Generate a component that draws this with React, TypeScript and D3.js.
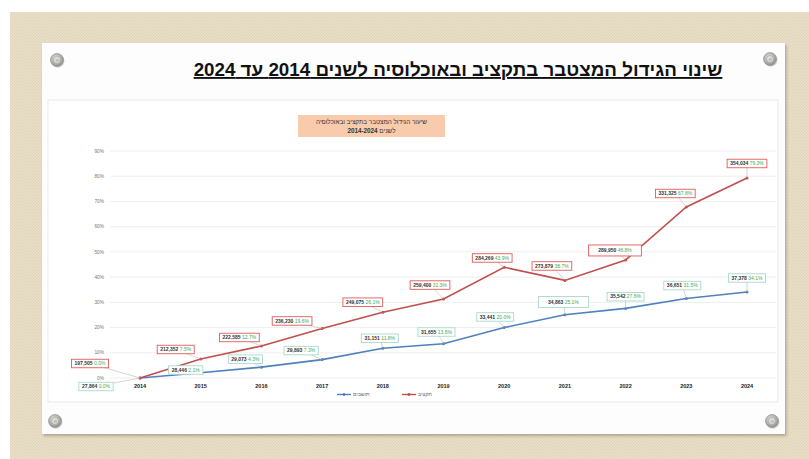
import * as d3 from "d3";

const years = [2014, 2015, 2016, 2017, 2018, 2019, 2020, 2021, 2022, 2023, 2024];
const budgetValues = ["197,505", "212,352", "222,585", "236,230", "249,075", "259,400", "284,269", "273,879", "289,950", "331,325", "354,034"];
const budgetGrowth = [0.0, 7.5, 12.7, 19.6, 26.1, 31.3, 43.9, 38.7, 46.8, 67.8, 79.3];
const residentValues = ["27,864", "28,446", "29,073", "29,893", "31,151", "31,655", "33,441", "34,863", "35,542", "36,651", "37,378"];
const residentGrowth = [0.0, 2.1, 4.3, 7.3, 11.8, 13.6, 20.0, 25.1, 27.6, 31.5, 34.1];
const yTicks = [0, 10, 20, 30, 40, 50, 60, 70, 80, 90];

// label box placement relative to its point (dx, dy, extra width)
const budgetLabelPos: [number, number, number][] = [
  [-50, -14.5, 0], [-25, -9.6, 0], [-22, -8.5, 0], [-30, -7.6, 0], [-20, -10, 0], [-13.5, -14, 0],
  [-12, -9.3, 0], [-13, -14.4, 0], [-10.6, -9.5, 13], [-11, -13.5, 0], [0, -14.5, 0],
];
const residentLabelPos: [number, number, number][] = [
  [-44, 8.5, 0], [-15, -2.7, 0], [-16, -8, 0], [-21, -9, 0], [-3, -10, 0], [-7, -11.7, 0],
  [-9, -10.6, 0], [-1.5, -12.7, 13], [0, -11.7, 0], [-4, -13, 0], [0, -14, 0],
];

const RED = "#c0504d";
const BLUE = "#4f81bd";
const FONT = "'Liberation Sans', Arial, sans-serif";

const x = d3.scaleLinear().domain([2014, 2024]).range([140, 747]);
const y = d3.scaleLinear().domain([0, 90]).range([378, 151]);

function Screw({ cx, cy }: { cx: number; cy: number }) {
  return (
    <g>
      <circle cx={cx + 0.8} cy={cy + 1} r={6.7} fill="#00000026" />
      <circle cx={cx} cy={cy} r={6.5} fill="url(#screwGrad)" stroke="#8a8a8a" strokeWidth={0.6} />
      <circle cx={cx} cy={cy} r={3.4} fill="#e4e4e0" stroke="#9c9c98" strokeWidth={0.6} />
      <circle cx={cx + 0.4} cy={cy + 0.4} r={1.9} fill="#c4c4bc" />
    </g>
  );
}

function Series({ growth, color }: { growth: number[]; color: string }) {
  const line = d3.line<number>().x((_, i) => x(years[i])).y((d) => y(d));
  return (
    <g>
      <path d={line(growth) ?? ""} fill="none" stroke={color} strokeWidth={1.6} />
      {growth.map((g, i) => (
        <circle key={i} cx={x(years[i])} cy={y(g)} r={1.5} fill={color} />
      ))}
    </g>
  );
}

function Labels({
  growth, values, pos, border,
}: {
  growth: number[]; values: string[]; pos: [number, number, number][]; border: string;
}) {
  return (
    <g>
      {growth.map((g, i) => {
        const px = x(years[i]);
        const py = y(g);
        const [dx, dy, extra] = pos[i];
        const pct = g.toFixed(1) + "%";
        const w = (values[i].length + pct.length + 1) * 2.75 + 4 + extra;
        const h = 8.5 + (extra ? 2.5 : 0);
        const cx = px + dx;
        const cy = py + dy;
        return (
          <g key={i}>
            <line x1={cx} y1={cy} x2={px} y2={py} stroke="#b8b8b8" strokeWidth={0.6} />
            <rect x={cx - w / 2} y={cy - h / 2} width={w} height={h} fill="#fff" stroke={border} strokeWidth={0.9} />
            <text x={cx} y={cy + 1.8} textAnchor="middle" fontSize={5} fontFamily={FONT} direction="ltr">
              <tspan fontWeight="bold" fill="#333">{values[i]}</tspan>
              <tspan fill="#3daa5a"> {pct}</tspan>
            </text>
          </g>
        );
      })}
    </g>
  );
}

export default function App() {
  return (
    <svg width={809} height={459} style={{ position: "absolute", left: 0, top: 0 }}>
      <defs>
        <pattern id="canvas" width={3} height={3} patternUnits="userSpaceOnUse">
          <rect width={3} height={3} fill="#e7ddc4" />
          <path d="M0,3 L3,0" stroke="#dbcfb1" strokeWidth={0.7} />
          <path d="M0,0 L3,3" stroke="#efe7d4" strokeWidth={0.4} />
        </pattern>
        <radialGradient id="screwGrad" cx="40%" cy="35%" r="70%">
          <stop offset="0%" stopColor="#dcdcd8" />
          <stop offset="100%" stopColor="#8e8e8a" />
        </radialGradient>
        <filter id="shadow" x="-5%" y="-5%" width="110%" height="110%">
          <feDropShadow dx={1.5} dy={2} stdDeviation={1.5} floodColor="#000" floodOpacity={0.25} />
        </filter>
      </defs>
      <rect width={809} height={459} fill="#fff" />
      <rect x={10} y={12} width={799} height={447} fill="url(#canvas)" />

      <rect x={42} y={43} width={743} height={391} fill="#fdfdfd" filter="url(#shadow)" />
      <text x={458} y={76} textAnchor="middle" fontSize={18.8} fontWeight="bold" fontFamily={FONT}
        fill="#111" direction="rtl" style={{ textDecoration: "underline" }}>
        שינוי הגידול המצטבר בתקציב ובאוכלוסיה לשנים 2014 עד 2024
      </text>

      <rect x={48} y={100} width={730} height={302} fill="#fff" stroke="#e4e4e4" strokeWidth={0.8} />

      <rect x={298} y={115} width={147} height={22} fill="#f8cbad" />
      <text x={371.5} y={124} textAnchor="middle" fontSize={6.3} fontFamily={FONT} fill="#333" direction="rtl">
        שיעור הגידול המצטבר בתקציב ובאוכלוסיה
      </text>
      <text x={371.5} y={133} textAnchor="middle" fontSize={6.3} fontFamily={FONT} fill="#333" direction="rtl">
        <tspan>לשנים </tspan>
        <tspan fontWeight="bold">2014-2024</tspan>
      </text>

      {yTicks.map((t) => (
        <g key={t}>
          <line x1={110} x2={776} y1={y(t)} y2={y(t)} stroke="#e6e6e6" strokeWidth={0.7} />
          <text x={104} y={y(t) + 1.7} textAnchor="end" fontSize={4.8} fontFamily={FONT} fill="#777">
            {t}%
          </text>
        </g>
      ))}
      {years.map((yr) => (
        <text key={yr} x={x(yr)} y={388} textAnchor="middle" fontSize={5.5} fontWeight="bold" fontFamily={FONT} fill="#222">
          {yr}
        </text>
      ))}

      <Series growth={residentGrowth} color={BLUE} />
      <Series growth={budgetGrowth} color={RED} />
      <Labels growth={residentGrowth} values={residentValues} pos={residentLabelPos} border="#a9d9cc" />
      <Labels growth={budgetGrowth} values={budgetValues} pos={budgetLabelPos} border="#e05a5a" />

      <g>
        <line x1={337} x2={351} y1={394.5} y2={394.5} stroke={BLUE} strokeWidth={1.4} />
        <circle cx={344} cy={394.5} r={1.4} fill={BLUE} />
        <text x={353} y={396.3} fontSize={5.2} fontFamily={FONT} fill="#666">תושבים</text>
        <line x1={402} x2={416} y1={394.5} y2={394.5} stroke={RED} strokeWidth={1.4} />
        <circle cx={409} cy={394.5} r={1.4} fill={RED} />
        <text x={418} y={396.3} fontSize={5.2} fontFamily={FONT} fill="#666">תקציב</text>
      </g>

      <Screw cx={57} cy={60} />
      <Screw cx={770} cy={59} />
      <Screw cx={55} cy={421} />
      <Screw cx={772} cy={421} />
    </svg>
  );
}
